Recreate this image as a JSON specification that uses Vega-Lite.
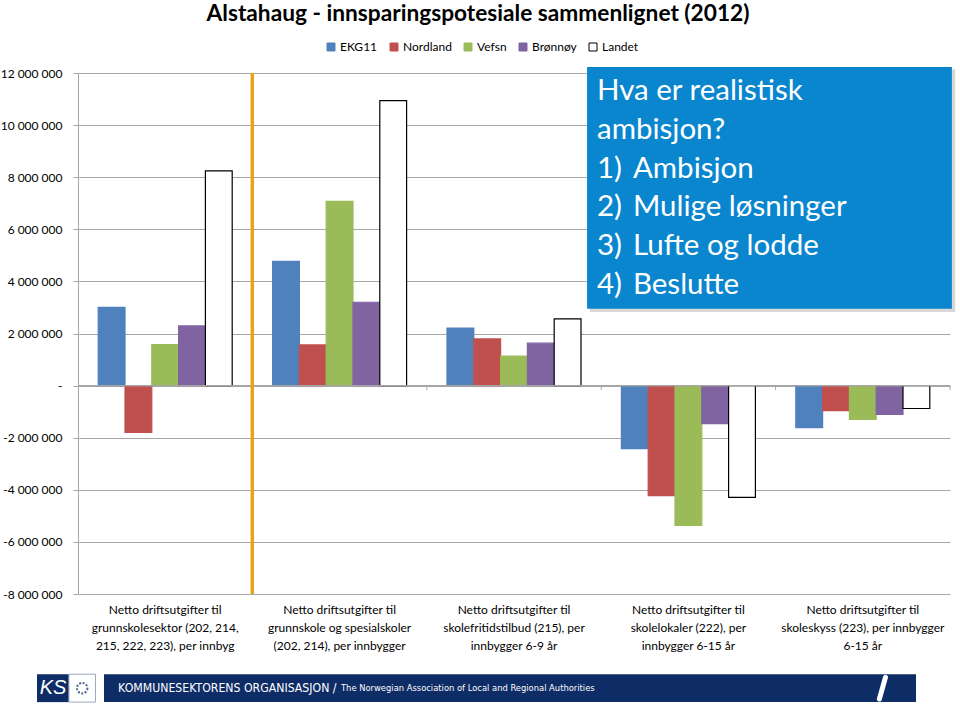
{
  "$schema": "https://vega.github.io/schema/vega-lite/v6.json",
  "width": 872,
  "height": 521,
  "autosize": {"type": "none"},
  "padding": {"left": 78, "top": 73, "right": 10, "bottom": 119},
  "background": "white",
  "config": {
    "font": "Lato",
    "view": {"stroke": null},
    "locale": {"number": {"decimal": ",", "thousands": " ", "grouping": [3], "currency": ["", " kr"], "minus": "-"}}
  },
  "title": {
    "text": "Alstahaug - innsparingspotesiale sammenlignet (2012)",
    "font": "Lato", "fontSize": 22.7, "fontWeight": "bold", "color": "#000000",
    "anchor": "middle", "dx": -36, "offset": 15
  },
  "datasets": {
    "bars": [
      {"k": 1, "serie": "EKG11", "verdi": 3000000},
      {"k": 1, "serie": "Nordland", "verdi": -1800000},
      {"k": 1, "serie": "Vefsn", "verdi": 1570000},
      {"k": 1, "serie": "Brønnøy", "verdi": 2290000},
      {"k": 1, "serie": "Landet", "verdi": 8240000},
      {"k": 2, "serie": "EKG11", "verdi": 4770000},
      {"k": 2, "serie": "Nordland", "verdi": 1560000},
      {"k": 2, "serie": "Vefsn", "verdi": 7070000},
      {"k": 2, "serie": "Brønnøy", "verdi": 3200000},
      {"k": 2, "serie": "Landet", "verdi": 10940000},
      {"k": 3, "serie": "EKG11", "verdi": 2210000},
      {"k": 3, "serie": "Nordland", "verdi": 1790000},
      {"k": 3, "serie": "Vefsn", "verdi": 1130000},
      {"k": 3, "serie": "Brønnøy", "verdi": 1630000},
      {"k": 3, "serie": "Landet", "verdi": 2560000},
      {"k": 4, "serie": "EKG11", "verdi": -2420000},
      {"k": 4, "serie": "Nordland", "verdi": -4220000},
      {"k": 4, "serie": "Vefsn", "verdi": -5370000},
      {"k": 4, "serie": "Brønnøy", "verdi": -1460000},
      {"k": 4, "serie": "Landet", "verdi": -4290000},
      {"k": 5, "serie": "EKG11", "verdi": -1610000},
      {"k": 5, "serie": "Nordland", "verdi": -960000},
      {"k": 5, "serie": "Vefsn", "verdi": -1300000},
      {"k": 5, "serie": "Brønnøy", "verdi": -1110000},
      {"k": 5, "serie": "Landet", "verdi": -880000}
    ],
    "cats": [{"k": 1}, {"k": 2}, {"k": 3}, {"k": 4}, {"k": 5}]
  },
  "resolve": {"scale": {"x": "independent"}},
  "layer": [
    {
      "layer": [
        {
          "data": {"name": "bars"},
          "mark": {"type": "bar", "strokeWidth": 1.2},
          "encoding": {
            "x": {
              "field": "k", "type": "ordinal",
              "scale": {"domain": [1, 2, 3, 4, 5], "paddingInner": 0, "paddingOuter": 0},
              "axis": {
                "title": null, "orient": "bottom", "domain": false, "ticks": false,
                "labelAngle": 0, "labelPadding": 10, "labelFontSize": 12, "labelColor": "#000000",
                "labelLineHeight": 18, "labelLimit": 220, "labelBaseline": "top",
                "labelExpr": "[['Netto driftsutgifter til','grunnskolesektor (202, 214,','215, 222, 223), per innbyg'],['Netto driftsutgifter til','grunnskole og spesialskoler','(202, 214), per innbygger'],['Netto driftsutgifter til','skolefritidstilbud (215), per','innbygger 6-9 år'],['Netto driftsutgifter til','skolelokaler (222), per','innbygger 6-15 år'],['Netto driftsutgifter til','skoleskyss (223), per innbygger','6-15 år']][datum.value - 1]"
              }
            },
            "xOffset": {
              "field": "serie", "type": "nominal",
              "scale": {"domain": ["EKG11", "Nordland", "Vefsn", "Brønnøy", "Landet"], "paddingInner": 0, "paddingOuter": 0.754}
            },
            "y": {
              "field": "verdi", "type": "quantitative",
              "scale": {"domain": [-8000000, 12000000], "nice": false, "zero": false},
              "axis": {
                "title": null, "values": [-8000000, -6000000, -4000000, -2000000, 0, 2000000, 4000000, 6000000, 8000000, 10000000, 12000000],
                "format": ",d", "labelExpr": "datum.value == 0 ? '-' : datum.label",
                "grid": true, "gridColor": "#A6A6A6", "gridWidth": 1,
                "domain": true, "domainColor": "#A6A6A6", "ticks": true, "tickColor": "#A6A6A6", "tickSize": 5,
                "labelPadding": 11, "labelFontSize": 12, "labelColor": "#000000"
              }
            },
            "fill": {
              "field": "serie", "type": "nominal",
              "scale": {"domain": ["EKG11", "Nordland", "Vefsn", "Brønnøy", "Landet"], "range": ["#4F81BD", "#C0504D", "#9BBB59", "#8064A2", "#FFFFFF"]},
              "legend": {
                "title": null, "orient": "none", "direction": "horizontal", "legendX": 247, "legendY": -32,
                "symbolType": "square", "symbolSize": 64, "symbolStrokeWidth": 1, "labelFontSize": 12, "labelFont": "Lato",
                "labelColor": "#000000", "labelOffset": 3, "columnPadding": 10
              }
            },
            "stroke": {
              "field": "serie", "type": "nominal",
              "scale": {"domain": ["EKG11", "Nordland", "Vefsn", "Brønnøy", "Landet"], "range": ["#4F81BD", "#C0504D", "#9BBB59", "#8064A2", "#000000"]},
              "legend": {
                "title": null, "orient": "none", "direction": "horizontal", "legendX": 247, "legendY": -32,
                "symbolType": "square", "symbolSize": 64, "symbolStrokeWidth": 1, "labelFontSize": 12, "labelFont": "Lato",
                "labelColor": "#000000", "labelOffset": 3, "columnPadding": 10
              }
            }
          }
        },
        {
          "data": {"name": "cats"},
          "mark": {"type": "rule", "color": "#A6A6A6", "strokeWidth": 1},
          "encoding": {
            "y": {"datum": 0, "type": "quantitative"}
          }
        },
        {
          "data": {"name": "cats"},
          "mark": {"type": "rule", "color": "#A6A6A6", "strokeWidth": 1},
          "encoding": {
            "x": {"field": "k", "type": "ordinal", "bandPosition": 1},
            "y": {"datum": 0, "type": "quantitative"},
            "y2": {"datum": -170000}
          }
        },
        {
          "data": {"name": "cats"},
          "mark": {"type": "rule", "color": "#E6A21A", "strokeWidth": 3},
          "encoding": {
            "x": {"datum": 2, "type": "ordinal", "bandPosition": 0}
          }
        }
      ]
    },
    {
      "data": {"name": "cats"},
      "transform": [{"filter": "datum.k == 1"}],
      "layer": [
        {
          "mark": {"type": "rect", "fill": "#C8C8C8", "opacity": 0.7},
          "encoding": {
            "x": {"datum": 2.935, "type": "quantitative", "scale": {"domain": [0, 5], "nice": false, "zero": false}, "axis": null},
            "x2": {"datum": 5.03},
            "y": {"datum": 12130000, "type": "quantitative"},
            "y2": {"datum": 2830000}
          }
        },
        {
          "mark": {"type": "rect", "fill": "#0A86CF"},
          "encoding": {
            "x": {"datum": 2.919, "type": "quantitative"},
            "x2": {"datum": 5.011},
            "y": {"datum": 12230000, "type": "quantitative"},
            "y2": {"datum": 2950000}
          }
        },
        {
          "mark": {"type": "text", "color": "#FFFFFF", "font": "Lato", "fontSize": 29.5, "align": "left", "baseline": "alphabetic", "lineHeight": 38.6},
          "encoding": {
            "x": {"datum": 2.976, "type": "quantitative"},
            "y": {"datum": 10965000, "type": "quantitative"},
            "text": {"value": ["Hva er realistisk", "ambisjon?"]}
          }
        },
        {
          "mark": {"type": "text", "color": "#FFFFFF", "font": "Lato", "fontSize": 29.5, "align": "left", "baseline": "alphabetic", "lineHeight": 38.6},
          "encoding": {
            "x": {"datum": 2.976, "type": "quantitative"},
            "y": {"datum": 7975000, "type": "quantitative"},
            "text": {"value": ["1)", "2)", "3)", "4)"]}
          }
        },
        {
          "mark": {"type": "text", "color": "#FFFFFF", "font": "Lato", "fontSize": 29.5, "align": "left", "baseline": "alphabetic", "lineHeight": 38.6},
          "encoding": {
            "x": {"datum": 3.182, "type": "quantitative"},
            "y": {"datum": 7975000, "type": "quantitative"},
            "text": {"value": ["Ambisjon", "Mulige løsninger", "Lufte og lodde", "Beslutte"]}
          }
        },
        {
          "mark": {"type": "rect", "fill": "#0E2C66"},
          "encoding": {
            "x": {"datum": 0.149, "type": "quantitative"},
            "x2": {"datum": 4.805},
            "y": {"datum": -11080000, "type": "quantitative"},
            "y2": {"datum": -12150000}
          }
        },
        {
          "mark": {"type": "rect", "fill": "#0E2C66"},
          "encoding": {
            "x": {"datum": -0.235, "type": "quantitative"},
            "x2": {"datum": -0.052},
            "y": {"datum": -11080000, "type": "quantitative"},
            "y2": {"datum": -12150000}
          }
        },
        {
          "mark": {"type": "rect", "fill": "#FFFFFF", "stroke": "#9AA6BF", "strokeWidth": 1},
          "encoding": {
            "x": {"datum": -0.052, "type": "quantitative"},
            "x2": {"datum": 0.1},
            "y": {"datum": -11080000, "type": "quantitative"},
            "y2": {"datum": -12150000}
          }
        },
        {
          "mark": {"type": "point", "shape": "circle", "filled": false, "stroke": "#0E2C66", "strokeWidth": 2, "strokeDash": [2, 1.5], "size": 110},
          "encoding": {
            "x": {"datum": 0.024, "type": "quantitative"},
            "y": {"datum": -11615000, "type": "quantitative"}
          }
        },
        {
          "mark": {"type": "text", "color": "#FFFFFF", "font": "Liberation Sans", "fontSize": 20, "fontStyle": "italic", "align": "center", "baseline": "middle"},
          "encoding": {
            "x": {"datum": -0.143, "type": "quantitative"},
            "y": {"datum": -11615000, "type": "quantitative"},
            "text": {"value": "KS"}
          }
        },
        {
          "mark": {"type": "text", "color": "#FFFFFF", "font": "DejaVu Sans Condensed", "fontSize": 12.2, "align": "left", "baseline": "middle"},
          "encoding": {
            "x": {"datum": 0.23, "type": "quantitative"},
            "y": {"datum": -11615000, "type": "quantitative"},
            "text": {"value": "KOMMUNESEKTORENS ORGANISASJON /"}
          }
        },
        {
          "mark": {"type": "text", "color": "#FFFFFF", "font": "DejaVu Sans Condensed", "fontSize": 9.3, "align": "left", "baseline": "middle"},
          "encoding": {
            "x": {"datum": 1.508, "type": "quantitative"},
            "y": {"datum": -11615000, "type": "quantitative"},
            "text": {"value": "The Norwegian Association of Local and Regional Authorities"}
          }
        },
        {
          "mark": {"type": "rule", "color": "#FFFFFF", "strokeWidth": 5, "strokeCap": "round"},
          "encoding": {
            "x": {"datum": 4.63, "type": "quantitative"},
            "x2": {"datum": 4.595},
            "y": {"datum": -11200000, "type": "quantitative"},
            "y2": {"datum": -12030000}
          }
        }
      ]
    }
  ]
}
